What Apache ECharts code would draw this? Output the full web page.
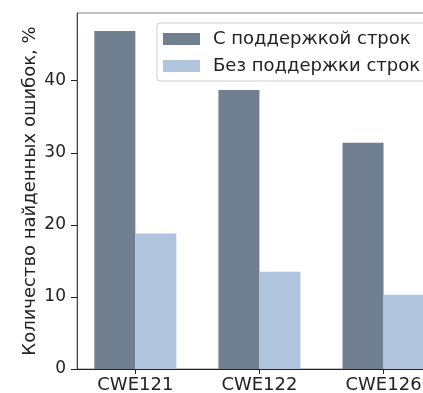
<!DOCTYPE html>
<html>
<head>
<meta charset="utf-8">
<script src="https://cdn.jsdelivr.net/npm/echarts@6/dist/echarts.min.js"></script>
<style>
html,body{margin:0;padding:0;background:#fff;}
#main{width:423px;height:393px;}
</style>
</head>
<body>
<div id="main"></div>
<script>
const categories = ['CWE121', 'CWE122', 'CWE126'];
const seriesNames = ['С поддержкой строк', 'Без поддержки строк'];
const withStrings = [46.9, 38.7, 31.4];
const withoutStrings = [18.8, 13.5, 10.3];
const yTicks = [0, 10, 20, 30, 40];

const font = 'DejaVu Sans';
const chart = echarts.init(document.getElementById('main'), null, {renderer: 'canvas'});
const pos = categories.map((c, i) => i);
chart.setOption({
  animation: false,
  backgroundColor: '#fff',
  grid: {
    left: 77, top: 13, width: 381, height: 356,
    show: true, borderColor: '#8a8a8a', borderWidth: 1,
    containLabel: false, outerBoundsMode: 'none'
  },
  legend: {
    orient: 'vertical',
    left: 157, top: 23,
    padding: [7, 40, 6, 6],
    itemWidth: 37, itemHeight: 12,
    itemGap: 9,
    backgroundColor: '#fff',
    borderColor: '#d0d0d0', borderWidth: 1, borderRadius: 3,
    icon: 'rect',
    textStyle: {fontFamily: font, fontSize: 18, color: '#222', padding: [0, 0, 0, 8]},
    data: seriesNames
  },
  xAxis: {
    type: 'value',
    min: -0.47, max: 2.6,
    splitLine: {show: false},
    axisLine: {show: true, onZero: false, lineStyle: {color: '#222', width: 1.2}},
    axisTick: {show: true, length: 5, customValues: pos, lineStyle: {color: '#222'}},
    axisLabel: {
      customValues: pos,
      fontFamily: font, fontSize: 18, color: '#222', margin: 7,
      formatter: v => categories[Math.round(v)] || ''
    }
  },
  yAxis: {
    type: 'value',
    min: 0, max: 49.4,
    name: 'Количество найденных ошибок, %',
    nameLocation: 'middle', nameGap: 38, nameMoveOverlap: false,
    nameTextStyle: {fontFamily: font, fontSize: 18, color: '#222'},
    splitLine: {show: false},
    axisLine: {show: true, onZero: false, lineStyle: {color: '#444', width: 1}},
    axisTick: {show: true, length: 6, customValues: yTicks, lineStyle: {color: '#222'}},
    axisLabel: {
      customValues: yTicks,
      fontFamily: font, fontSize: 17, color: '#222', margin: 11,
      formatter: v => String(v)
    }
  },
  series: [
    {
      name: seriesNames[0], type: 'bar',
      data: pos.map(i => [i, withStrings[i]]),
      barWidth: 41, barGap: '0%',
      itemStyle: {color: '#708090'}
    },
    {
      name: seriesNames[1], type: 'bar',
      data: pos.map(i => [i, withoutStrings[i]]),
      barWidth: 41, barGap: '0%',
      itemStyle: {color: '#b0c4de'}
    }
  ]
});
</script>
</body>
</html>
